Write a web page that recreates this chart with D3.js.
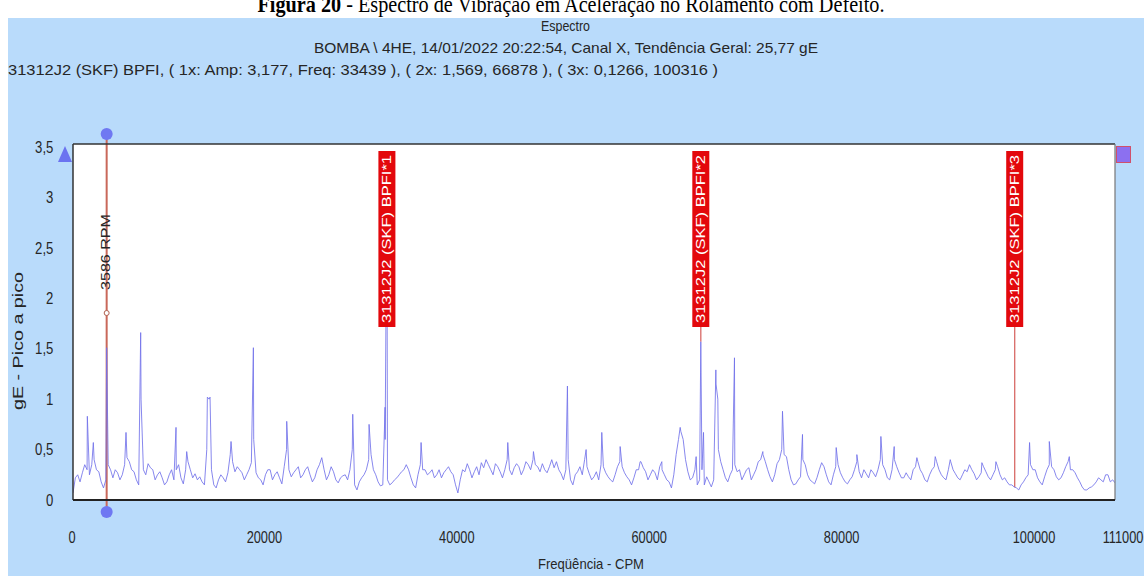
<!DOCTYPE html>
<html>
<head>
<meta charset="utf-8">
<script src="https://cdn.jsdelivr.net/npm/d3@7"></script>
<style>
  body { margin: 0; background: #fff; }
  svg text { font-family: "Liberation Sans", Arial, sans-serif; fill: #262626; }
</style>
</head>
<body>
<svg id="chart"></svg>
<script>
// spectrum baseline, read every 500 CPM (0 .. 111000)
var baseStep = 500;
var baseAmp = [
  0.07,0.25,0.27,0.30,0.35,0.30,0.18,0.20,0.30,0.30,
  0.20,0.35,0.38,0.28,0.15,0.30,0.36,0.30,0.25,0.22,
  0.18,0.30,0.30,0.22,0.30,0.30,0.26,0.23,0.15,1.00,
  0.15,0.20,0.22,0.27,0.38,0.33,0.27,0.25,0.37,0.27,
  0.20,0.25,0.30,0.25,0.22,0.33,0.30,0.27,0.33,0.25,
  0.33,0.18,0.30,0.42,0.20,0.33,0.20,0.22,0.25,0.30,
  0.15,0.18,0.25,0.40,0.30,0.18,0.15,0.20,0.17,0.22,
  0.28,0.35,0.22,0.12,0.35,0.30,0.27,0.22,0.30,0.27,
  0.33,0.25,0.07,0.30,0.36,0.22,0.33,0.37,0.40,0.30,
  0.36,0.28,0.30,0.30,0.32,0.33,0.30,0.35,0.40,0.33,
  0.36,0.27,0.40,0.38,0.26,0.30,0.20,0.25,0.33,0.40,
  0.26,0.23,0.20,0.33,0.23,0.18,0.33,0.33,0.23,0.15,
  0.30,0.38,0.28,0.25,0.27,0.33,0.25,0.18,0.25,0.60,
  0.60,0.28,0.22,0.15,0.30,0.23,0.13,1.15,0.38,0.22,
  0.25,0.35,0.30,0.25,0.32,0.25,0.38,0.45,0.30,0.18,
  0.36,0.50,0.43,0.20,0.16,0.23,0.35,0.20,0.16,0.30,
  0.33,0.18,0.25,0.35,0.22,0.16,0.23,0.38,0.22,0.26,
  0.30,0.23,0.40,0.30,0.20,0.40,0.27,0.22,0.23,0.30,
  0.38,0.26,0.18,0.30,0.38,0.25,0.20,0.38,0.26,0.20,
  0.30,0.35,0.26,0.23,0.33,0.23,0.25,0.33,0.20,0.18,
  0.15,0.12,0.15,0.22,0.35,0.30,0.18,0.23,0.35,0.30,
  0.20,0.27,0.38,0.30,0.22,0.13,0.10,0.13,0.18,0.20,
  0.25,0.18,0.17
];

// in-between readings at 250, 750, ... CPM
var midAmp = [
  0.22,0.18,0.35,0.25,0.40,0.28,0.12,0.35,0.22,0.27,
  0.25,0.42,0.30,0.20,1.00,0.25,0.32,0.20,0.28,0.15,
  0.25,0.20,0.35,0.16,0.38,0.22,0.20,0.18,0.50,0.30,
  0.12,0.25,0.18,0.45,0.28,0.30,0.20,0.30,0.60,0.22,
  0.15,0.30,0.20,0.28,0.16,0.50,0.23,0.30,0.22,0.30,
  0.25,0.22,0.35,0.30,0.25,0.28,0.17,0.24,0.20,0.50,
  0.10,0.22,0.30,0.45,0.25,0.14,0.60,0.15,0.20,0.25,
  0.30,0.30,0.15,0.25,0.30,0.25,0.30,0.25,0.22,0.30,
  0.28,0.15,0.20,0.28,0.30,0.28,0.25,0.32,0.35,0.25,
  0.33,0.22,0.40,0.25,0.36,0.25,0.38,0.30,0.35,0.28,
  0.30,0.33,0.32,0.30,0.20,0.40,0.15,0.28,0.25,0.33,
  0.20,0.28,0.35,0.27,0.20,0.25,0.38,0.27,0.20,0.22,
  0.30,0.32,0.20,0.30,0.20,0.30,0.20,0.12,0.45,0.68,
  0.40,0.20,0.30,0.20,0.15,0.18,0.20,0.50,0.30,0.18,
  0.30,0.28,0.20,0.30,0.20,0.30,0.40,0.38,0.23,0.25,
  0.40,0.45,0.30,0.15,0.20,0.40,0.25,0.18,0.22,0.37,
  0.25,0.15,0.33,0.27,0.18,0.20,0.30,0.28,0.30,0.22,
  0.27,0.30,0.35,0.22,0.30,0.33,0.22,0.27,0.20,0.33,
  0.30,0.20,0.25,0.33,0.30,0.22,0.30,0.30,0.22,0.25,
  0.28,0.30,0.20,0.27,0.28,0.20,0.30,0.25,0.22,0.15,
  0.13,0.10,0.18,0.25,0.30,0.22,0.15,0.30,0.33,0.23,
  0.22,0.33,0.30,0.27,0.18,0.10,0.12,0.15,0.22,0.18,
  0.25,0.20
];

// spectral peaks (CPM, gE)
var peakFreq = [1527, 2167, 3586, 5647, 7210, 10975, 12111, 14313, 14598, 16835, 19215, 22767,
  29800, 31540, 33245, 33439, 37080, 46315, 49050, 52670, 54660,
  56330, 58285, 60415, 62725, 64680, 66380, 66878, 67165, 68480, 68690, 70465, 73485, 75580, 77710, 81300,
  83500, 86060, 87480, 89895, 91850, 93450, 96820, 98315, 101900, 104000, 106130];
var peakAmp = [0.83, 0.57, 1.51, 0.67, 1.66, 0.72, 0.48, 1.02, 1.02, 0.58, 1.51, 0.78,
  0.85, 0.75, 0.92, 3.177, 0.57, 0.57, 0.48, 1.13, 0.50,
  0.67, 0.53, 0.38, 0.38, 0.72, 0.43, 1.569, 0.67, 1.29, 1.00, 1.41, 0.48, 0.88, 0.65, 0.52,
  0.45, 0.63, 0.53, 0.42, 0.43, 0.40, 0.37, 0.38, 0.57, 0.58, 0.43];

// bearing fault markers
var bpfFreq = [33439, 66878, 100316];
var bpfAmp = [3.177, 1.569, 0.1266];
var bpfLabel = ["31312J2 (SKF) BPFI*1", "31312J2 (SKF) BPFI*2", "31312J2 (SKF) BPFI*3"];
var rpm = 3586;

var yTicks = [0, 0.5, 1, 1.5, 2, 2.5, 3, 3.5];
var xTicks = [0, 20000, 40000, 60000, 80000, 100000, 111000];

var titleText = "Espectro";
var subText = "BOMBA \\ 4HE, 14/01/2022 20:22:54, Canal X, Tendência Geral: 25,77 gE";
var infoText = "31312J2 (SKF) BPFI, ( 1x: Amp: 3,177, Freq: 33439 ), ( 2x: 1,569, 66878 ), ( 3x: 0,1266, 100316 )";

var width = 1144, height = 576;
var plotL = 73, plotR = 1115, plotT = 144, plotB = 500;

var svg = d3.select("#chart").attr("width", width).attr("height", height);

var x = d3.scaleLinear().domain([0, 111000]).range([plotL, plotR]);
var xl = d3.scaleLinear().domain([0, 100000]).range([72, 1034]); // label positions drift in the original
var y = d3.scaleLinear().domain([0, 3.53]).range([plotB, plotT]);

var points = baseAmp.map(function(a, i) { return [i * baseStep, a]; })
  .concat(midAmp.map(function(a, i) { return [i * baseStep + baseStep / 2, a]; }))
  .concat(peakFreq.map(function(f, i) { return [f, peakAmp[i]]; }))
  .sort(function(a, b) { return a[0] - b[0]; });

// page caption (cut at the top)
var cap = svg.append("text").attr("x", 571).attr("y", 12).attr("text-anchor", "middle")
  .style("font-family", "'Liberation Serif', 'Times New Roman', serif").style("font-size", "23px").style("fill", "#000")
  .attr("textLength", 627).attr("lengthAdjust", "spacingAndGlyphs");
cap.append("tspan").style("font-weight", "bold").text("Figura 20");
cap.append("tspan").text(" - Espectro de Vibração em Aceleração no Rolamento com Defeito.");

svg.append("rect").attr("x", 8).attr("y", 18).attr("width", width - 8).attr("height", height - 18).attr("fill", "#b9dbfb");

svg.append("text").attr("x", 541).attr("y", 31)
  .style("font-size", "15px").attr("textLength", 49).attr("lengthAdjust", "spacingAndGlyphs").text(titleText);
svg.append("text").attr("x", 314).attr("y", 53)
  .style("font-size", "15px").attr("textLength", 504).attr("lengthAdjust", "spacingAndGlyphs").text(subText);
svg.append("text").attr("x", 8).attr("y", 75)
  .style("font-size", "15px").attr("textLength", 710).attr("lengthAdjust", "spacingAndGlyphs").text(infoText);

svg.append("rect").attr("x", plotL).attr("y", plotT).attr("width", plotR - plotL).attr("height", plotB - plotT).attr("fill", "#fff");

svg.append("defs").append("clipPath").attr("id", "plotclip")
  .append("rect").attr("x", plotL).attr("y", plotT).attr("width", plotR - plotL).attr("height", plotB - plotT);

// fault marker stems
svg.selectAll(".stem").data(bpfFreq).enter().append("line")
  .attr("class", "stem")
  .attr("x1", function(d) { return x(d); }).attr("x2", function(d) { return x(d); })
  .attr("y1", 327).attr("y2", function(d, i) { return Math.max(327, y(bpfAmp[i])); })
  .attr("stroke", "#d2504c").attr("stroke-width", 1.3).attr("opacity", 0.85);

// running speed marker
svg.append("line").attr("x1", x(rpm)).attr("x2", x(rpm)).attr("y1", 134).attr("y2", 511)
  .attr("stroke", "#c9685a").attr("stroke-width", 2);

var line = d3.line().x(function(d) { return x(d[0]); }).y(function(d) { return y(d[1]); });
svg.append("path").datum(points).attr("d", line).attr("clip-path", "url(#plotclip)")
  .attr("fill", "none").attr("stroke", "#7272ea").attr("stroke-width", 1).attr("stroke-opacity", 0.85);

// frame
svg.append("line").attr("x1", plotL).attr("x2", plotR).attr("y1", plotT).attr("y2", plotT).attr("stroke", "#333").attr("stroke-width", 1.5);
svg.append("line").attr("x1", plotL).attr("x2", plotL).attr("y1", plotT).attr("y2", plotB).attr("stroke", "#333").attr("stroke-width", 1.5);
svg.append("line").attr("x1", plotR).attr("x2", plotR).attr("y1", plotT).attr("y2", plotB).attr("stroke", "#777").attr("stroke-width", 1.2);
svg.append("line").attr("x1", plotL).attr("x2", plotR).attr("y1", plotB).attr("y2", plotB).attr("stroke", "#222").attr("stroke-width", 2);

// fault marker labels
var tags = svg.selectAll(".tag").data(bpfFreq).enter().append("g").attr("class", "tag")
  .attr("transform", function(d) { return "translate(" + x(d) + ",0)"; });
tags.append("rect").attr("x", -8.5).attr("y", 151).attr("width", 17).attr("height", 176).attr("fill", "#e3080c");
tags.append("text").attr("transform", "translate(0,239) rotate(-90)").attr("text-anchor", "middle").attr("dy", "0.36em")
  .style("font-size", "12px").style("fill", "#fff").attr("textLength", 168).attr("lengthAdjust", "spacingAndGlyphs")
  .text(function(d, i) { return bpfLabel[i]; });

// running speed handles
svg.append("circle").attr("cx", x(rpm)).attr("cy", 134).attr("r", 6).attr("fill", "#6f78f2");
svg.append("circle").attr("cx", x(rpm)).attr("cy", 512).attr("r", 6).attr("fill", "#6f78f2");
svg.append("circle").attr("cx", x(rpm)).attr("cy", 313).attr("r", 2.5).attr("fill", "#fff").attr("stroke", "#b0604f").attr("stroke-width", 1);
svg.append("text").attr("transform", "translate(" + (x(rpm) - 1) + ",252) rotate(-90)").attr("text-anchor", "middle")
  .attr("dy", "0.36em").style("font-size", "12px").attr("textLength", 76).attr("lengthAdjust", "spacingAndGlyphs").text(rpm + " RPM");

// cursor glyphs at the plot corners
svg.append("path").attr("d", "M58,162L65,146L72,162Z").attr("fill", "#6b73f0");
svg.append("rect").attr("x", 1116.5).attr("y", 146.5).attr("width", 14).attr("height", 16)
  .attr("fill", "#8c70f0").attr("stroke", "#d0506a").attr("stroke-width", 1);

// axes
var fmt = function(d) { return String(d).replace(".", ","); };
var yAxis = svg.append("g").attr("transform", "translate(" + plotL + ",0)")
  .call(d3.axisLeft(y).tickValues(yTicks).tickFormat(fmt).tickSize(0).tickPadding(24));
yAxis.select(".domain").remove();
yAxis.selectAll("text").style("font-size", "16px").style("font-family", null).style("fill", "#262626")
  .attr("transform", "scale(0.82,1)");

var xAxis = svg.append("g").attr("transform", "translate(0," + plotB + ")")
  .call(d3.axisBottom(xl).tickValues(xTicks).tickFormat(d3.format("d")).tickSize(0).tickPadding(32));
xAxis.select(".domain").remove();
xAxis.selectAll(".tick").attr("transform", function(d) { return "translate(" + Math.min(xl(d), 1123) + ",0)"; });
xAxis.selectAll("text").style("font-size", "16px").style("font-family", null).style("fill", "#262626")
  .attr("transform", "scale(0.8,1)");

svg.append("text").attr("x", 591).attr("y", 569).attr("text-anchor", "middle")
  .style("font-size", "15px").attr("textLength", 106).attr("lengthAdjust", "spacingAndGlyphs").text("Freqüência - CPM");
svg.append("text").attr("transform", "translate(18,341) rotate(-90)").attr("text-anchor", "middle").attr("dy", "0.36em")
  .style("font-size", "15px").attr("textLength", 138).attr("lengthAdjust", "spacingAndGlyphs").text("gE - Pico a pico");
</script>
</body>
</html>
